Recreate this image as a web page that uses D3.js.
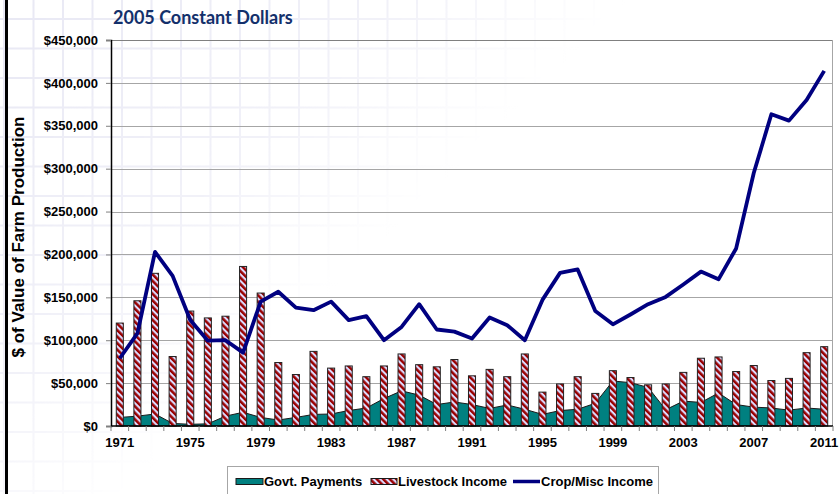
<!DOCTYPE html>
<html>
<head>
<meta charset="utf-8">
<script src="https://cdn.jsdelivr.net/npm/d3@7"></script>
<style>
  body { margin: 0; background: #fff; }
  svg { display: block; }
  text { font-family: "Liberation Sans", Arial, sans-serif; }
</style>
</head>
<body>
<svg id="chart"></svg>
<script>
// Data
const years = [1971, 1972, 1973, 1974, 1975, 1976, 1977, 1978, 1979, 1980,
  1981, 1982, 1983, 1984, 1985, 1986, 1987, 1988, 1989, 1990,
  1991, 1992, 1993, 1994, 1995, 1996, 1997, 1998, 1999, 2000,
  2001, 2002, 2003, 2004, 2005, 2006, 2007, 2008, 2009, 2010, 2011];

const govtPayments = [10000, 11500, 14000, 3000, 2000, 2500, 11500, 16000, 10000, 7000,
  10000, 13500, 14000, 18000, 21000, 32000, 41000, 36000, 25000, 28000,
  25000, 20500, 24500, 19500, 13500, 18000, 19500, 26500, 52500, 50500,
  45000, 19000, 29000, 27500, 38500, 25000, 22000, 21000, 18500, 21000, 19500];

const livestockIncome = [120000, 146000, 178000, 81000, 134000, 126000, 128000, 186000, 155000, 74000,
  60000, 87000, 67500, 70000, 57500, 70000, 84000, 71500, 69000, 77500,
  58500, 66000, 57500, 84000, 39500, 49000, 57500, 38000, 64500, 56500,
  48000, 49000, 62500, 79000, 80500, 63500, 70500, 53000, 55500, 85500, 92500];

const cropMiscIncome = [79000, 108000, 203000, 175000, 123500, 99500, 100000, 85500, 145000, 156500,
  138000, 135000, 145000, 123500, 128000, 100000, 115500, 142000, 112500, 110000,
  102000, 126500, 117500, 100000, 147000, 178500, 182500, 134000, 118500, 130000,
  142000, 150500, 165000, 180000, 171000, 207000, 295000, 363500, 356000, 380000, 414000];

const yTicks = [0, 50000, 100000, 150000, 200000, 250000, 300000, 350000, 400000, 450000];
const xTickLabels = [1971, 1975, 1979, 1983, 1987, 1991, 1995, 1999, 2003, 2007, 2011];

// Dimensions
const width = 840;
const height = 494;
const margin = { top: 40, right: 7, bottom: 68, left: 111 };
const plotW = width - margin.left - margin.right;
const plotH = height - margin.top - margin.bottom;

const svg = d3.select("#chart")
  .attr("width", width)
  .attr("height", height);

const defs = svg.append("defs");

// striped fill for livestock bars
const stripes = defs.append("pattern")
  .attr("id", "stripes")
  .attr("patternUnits", "userSpaceOnUse")
  .attr("width", 4.6)
  .attr("height", 4.6)
  .attr("patternTransform", "rotate(45)");
stripes.append("rect").attr("width", 4.6).attr("height", 4.6).attr("fill", "#990000");
stripes.append("rect").attr("width", 4.6).attr("height", 2.1).attr("fill", "#dcdcff");

// fading mask for the faint background grid
const grad = defs.append("linearGradient")
  .attr("id", "fade")
  .attr("x1", 0).attr("y1", 0).attr("x2", 1).attr("y2", 0.6);
grad.append("stop").attr("offset", "0%").attr("stop-color", "#fff");
grad.append("stop").attr("offset", "35%").attr("stop-color", "#fff").attr("stop-opacity", 0.6);
grad.append("stop").attr("offset", "55%").attr("stop-color", "#fff").attr("stop-opacity", 0);
defs.append("mask").attr("id", "fadeMask")
  .append("rect").attr("width", width).attr("height", height).attr("fill", "url(#fade)");

// faint background grid
const bg = svg.append("g").attr("mask", "url(#fadeMask)");
bg.selectAll("line.v")
  .data(d3.range(4, width, 29.5))
  .join("line")
  .attr("x1", d => d).attr("x2", d => d)
  .attr("y1", 0).attr("y2", height)
  .attr("stroke", "#e8e8f4").attr("stroke-width", 2);
bg.selectAll("line.h")
  .data(d3.range(19, height, 29.5))
  .join("line")
  .attr("x1", 0).attr("x2", width)
  .attr("y1", d => d).attr("y2", d => d)
  .attr("stroke", "#e8e8f4").attr("stroke-width", 2);

// thick black line at the left edge
svg.append("rect")
  .attr("x", 5).attr("y", 0)
  .attr("width", 3).attr("height", height)
  .attr("fill", "#000");

// Scales
const x = d3.scaleBand()
  .domain(years)
  .range([margin.left, margin.left + plotW])
  .padding(0);

const y = d3.scaleLinear()
  .domain([0, 450000])
  .range([margin.top + plotH, margin.top]);

const xc = d => x(d) + x.bandwidth() / 2;

// Gridlines
svg.append("g")
  .selectAll("line")
  .data(yTicks.filter(d => d > 0))
  .join("line")
  .attr("x1", margin.left)
  .attr("x2", margin.left + plotW)
  .attr("y1", d => Math.round(y(d)) + 0.5)
  .attr("y2", d => Math.round(y(d)) + 0.5)
  .attr("stroke", d => d === 450000 ? "#808080" : "#a6a6a6")
  .attr("stroke-width", 1);

// right border
svg.append("line")
  .attr("x1", margin.left + plotW - 0.5).attr("x2", margin.left + plotW - 0.5)
  .attr("y1", margin.top).attr("y2", margin.top + plotH)
  .attr("stroke", "#a6a6a6");

// Govt. payments area
const area = d3.area()
  .x((d, i) => xc(years[i]))
  .y0(y(0))
  .y1(d => y(d));

svg.append("path")
  .datum(govtPayments)
  .attr("d", area)
  .attr("fill", "#008080")
  .attr("stroke", "#1a1a1a")
  .attr("stroke-width", 1);

// Livestock bars
const barW = x.bandwidth() * 0.4;
svg.append("g")
  .selectAll("rect")
  .data(livestockIncome)
  .join("rect")
  .attr("x", (d, i) => xc(years[i]) - barW / 2)
  .attr("y", d => y(d))
  .attr("width", barW)
  .attr("height", d => y(0) - y(d))
  .attr("fill", "url(#stripes)")
  .attr("stroke", "#222")
  .attr("stroke-width", 1);

// Crop/Misc line
const line = d3.line()
  .x((d, i) => xc(years[i]))
  .y(d => y(d));

svg.append("path")
  .datum(cropMiscIncome)
  .attr("d", line)
  .attr("fill", "none")
  .attr("stroke", "#000080")
  .attr("stroke-width", 3.8)
  .attr("stroke-linejoin", "round");

// Y axis
const yAxis = d3.axisLeft(y)
  .tickValues(yTicks)
  .tickFormat(d3.format("$,"))
  .tickSize(5)
  .tickPadding(8);

const gy = svg.append("g")
  .attr("transform", `translate(${margin.left},0)`)
  .call(yAxis);
gy.select(".domain").attr("stroke", "#000").attr("stroke-width", 1.5);
gy.selectAll(".tick line").attr("stroke", "#808080");
gy.selectAll(".tick text")
  .style("font-family", "'Liberation Sans', Arial, sans-serif")
  .style("font-size", "13px")
  .style("font-weight", "bold")
  .attr("fill", "#000");

// X axis: ticks at every band boundary, labels every 4 years
const gx = svg.append("g")
  .attr("transform", `translate(0,${y(0)})`);
gx.append("line")
  .attr("x1", margin.left).attr("x2", margin.left + plotW)
  .attr("stroke", "#000").attr("stroke-width", 1.5);
gx.selectAll("line.tk")
  .data(years.concat([null]))
  .join("line")
  .attr("class", "tk")
  .attr("x1", (d, i) => margin.left + i * x.bandwidth())
  .attr("x2", (d, i) => margin.left + i * x.bandwidth())
  .attr("y1", 0).attr("y2", 5)
  .attr("stroke", "#808080");
gx.selectAll("text")
  .data(xTickLabels)
  .join("text")
  .attr("x", d => xc(d))
  .attr("y", 21)
  .attr("text-anchor", "middle")
  .style("font-size", "13px")
  .style("font-weight", "bold")
  .text(d => d);

// Y axis title
svg.append("text")
  .attr("transform", `translate(24, ${margin.top + 197}) rotate(-90)`)
  .attr("text-anchor", "middle")
  .style("font-size", "17px")
  .style("font-weight", "bold")
  .text("$ of Value of Farm Production");

// Subtitle
svg.append("text")
  .attr("x", 113)
  .attr("y", 24)
  .style("font-family", "Lato, 'Open Sans', sans-serif")
  .style("font-size", "18px")
  .style("font-weight", "bold")
  .style("fill", "#13306b")
  .text("2005 Constant Dollars");

// Legend
const legend = svg.append("g");
legend.append("rect")
  .attr("x", 227.5).attr("y", 466.5)
  .attr("width", 431).attr("height", 40)
  .attr("fill", "#fff")
  .attr("stroke", "#a6a6a6");

legend.append("rect")
  .attr("x", 236).attr("y", 478.5)
  .attr("width", 27).attr("height", 6)
  .attr("fill", "#008080").attr("stroke", "#1a1a1a");
legend.append("rect")
  .attr("x", 371).attr("y", 478.5)
  .attr("width", 26).attr("height", 6)
  .attr("fill", "url(#stripes)").attr("stroke", "#1a1a1a");
legend.append("line")
  .attr("x1", 513).attr("x2", 540)
  .attr("y1", 481.5).attr("y2", 481.5)
  .attr("stroke", "#000080").attr("stroke-width", 3.5);

const legendItems = [
  { label: "Govt. Payments", x: 264 },
  { label: "Livestock Income", x: 398 },
  { label: "Crop/Misc Income", x: 541 }
];
legend.selectAll("text.lbl")
  .data(legendItems)
  .join("text")
  .attr("class", "lbl")
  .attr("x", d => d.x)
  .attr("y", 486)
  .style("font-size", "13px")
  .style("font-weight", "bold")
  .text(d => d.label);
</script>
</body>
</html>
